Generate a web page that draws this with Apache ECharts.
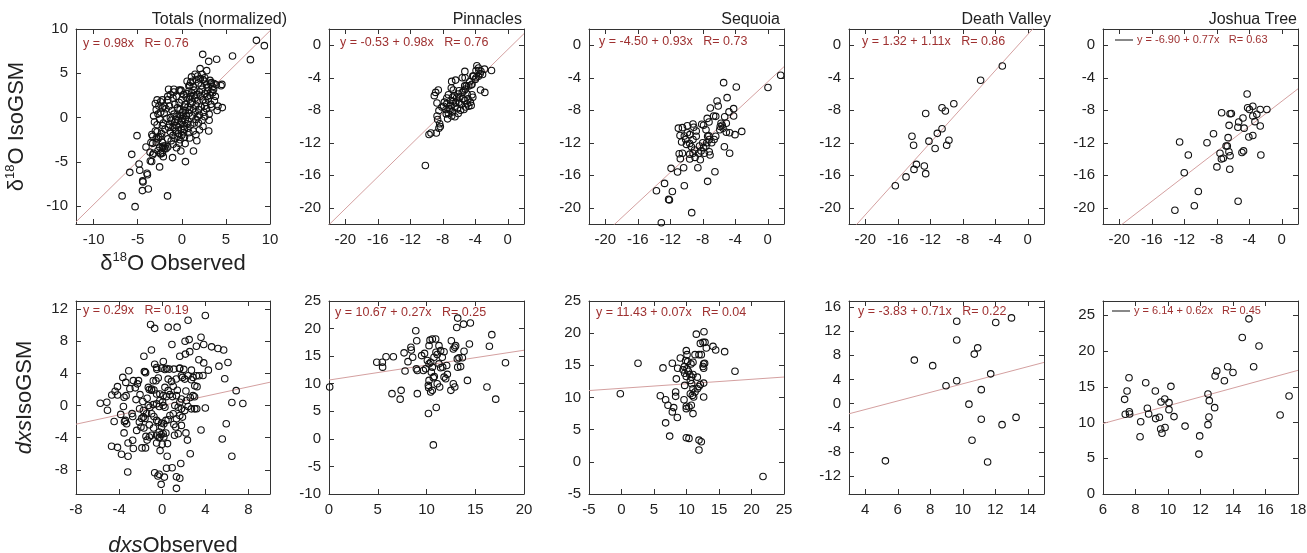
<!DOCTYPE html>
<html>
<head>
<meta charset="utf-8">
<script src="https://cdn.jsdelivr.net/npm/echarts@6/dist/echarts.min.js"></script>
<style>
html,body{margin:0;padding:0;background:#fff;}
#chart{width:1307px;height:553px;}
</style>
</head>
<body>
<div id="chart"></div>
<script>
// station names (top row titles)
var stations = ['Totals (normalized)', 'Pinnacles', 'Sequoia', 'Death Valley', 'Joshua Tree'];

// fitted lines: y = a + b*x  (a null = fit through origin)
var intercepts = [null, -0.53, -4.50, 1.32, -6.90, null, 10.67, 11.43, -3.83, 6.14];
var slopes     = [0.98, 0.98, 0.93, 1.11, 0.77, 0.29, 0.27, 0.07, 0.71, 0.62];
var rValues    = [0.76, 0.76, 0.73, 0.86, 0.63, 0.19, 0.25, 0.04, 0.22, 0.45];

// axis ranges and tick labels per panel
var xRanges = [[-12, 10], [-22, 2], [-22, 2], [-22, 2], [-22, 2], [-8, 10], [0, 20], [-5, 25], [3, 15], [6, 18]];
var yRanges = [[-12, 10], [-22, 2], [-22, 2], [-22, 2], [-22, 2], [-11, 13], [-10, 25], [-5, 25], [-15, 17], [0, 27]];
var d18Ticks = [-20, -16, -12, -8, -4, 0];
var xTicks = [[-10, -5, 0, 5, 10], d18Ticks, d18Ticks, d18Ticks, d18Ticks,
    [-8, -4, 0, 4, 8], [0, 5, 10, 15, 20], [-5, 0, 5, 10, 15, 20, 25], [4, 6, 8, 10, 12, 14], [6, 8, 10, 12, 14, 16, 18]];
var yTicks = [[-10, -5, 0, 5, 10], d18Ticks, d18Ticks, d18Ticks, d18Ticks,
    [-8, -4, 0, 4, 8, 12], [-10, -5, 0, 5, 10, 15, 20, 25], [-5, 0, 5, 10, 15, 20, 25], [-12, -8, -4, 0, 4, 8, 12, 16], [0, 5, 10, 15, 20, 25]];

// δ18O observed vs IsoGSM
var d18Totals = [
    [8.46,8.72],[9.36,8.12],[7.78,6.54],[5.75,6.95],[2.37,7.14],[3.05,6.35],[3.95,6.58],[2.07,5.53],[2.82,5.3],[4.59,1.13],
    [3.05,-1.5],[1.32,-3.76],[0.41,-4.96],[-0.11,-3.76],[0.38,-2.93],[-1.05,-4.51],[-1.62,-8.83],[-2.52,-5.56],[-6.77,-8.83],[-5.3,-10.04],
    [-5.68,-4.14],[-5.08,-2.03],[-5.9,-6.17],[-4.85,-5.23],[-4.77,-5.94],[-4.44,-7.14],[-4.4,-7.25],[-4.47,-8.23],[-3.8,-8.05],[-3.95,-6.28],
    [-3.9,-6.45],[-3.57,-4.89],[-3.42,-4.95],[-4.06,-3.31],[-3.2,-4.02],[-3.3,-2.9],[-2.9,-2.3],
    [1.5,4.9],[2.4,4.3],[2.6,4.1],[3.35,3.95],[3.65,3.85],[4.55,3.75],[4.45,3.6],[3.5,3.45],
    [0.6,4.1],[1.0,4.0],[1.3,3.5],[1.6,4.3],[1.9,3.9],[2.2,3.6],[2.8,3.7],[3.0,3.4],[3.3,3.8],[3.9,3.7],
    [0.8,3.0],[1.1,2.8],[1.4,3.1],[1.7,2.6],[2.0,2.9],[2.3,3.2],[2.6,2.7],[2.9,3.0],[3.2,2.5],[3.5,2.8],[3.8,2.4],
    [0.5,2.3],[0.9,2.1],[1.2,1.8],[1.5,2.2],[1.8,1.9],[2.1,2.4],[2.4,2.0],[2.7,1.7],[3.0,2.1],[3.3,1.5],[3.7,1.9],[4.1,1.3],
    [0.4,1.5],[0.7,1.2],[1.0,1.6],[1.3,1.0],[1.6,1.4],[1.9,0.9],[2.2,1.2],[2.5,0.6],[2.8,1.0],[3.1,0.4],[3.4,1.2],[4.0,0.8],
    [3.1,-0.3],[2.6,0.1],[2.0,0.3],[1.6,-0.2],[1.2,0.2],[0.8,0.5],[0.4,0.8],[1.1,4.6],[2.3,4.9],[0.9,3.6],[2.6,4.5],[3.2,4.2],
    [1.3,-1.5],[1.9,-0.6],[2.4,-1.0],[0.7,-1.2],[1.0,-0.8],[1.6,-1.9],[0.8,-1.7],[0.3,-2.2],[2.0,-1.4],[1.4,-0.6],
    [-1.4,-0.8],[-1.2,-0.3],[-1.0,-1.1],[-0.8,-0.5],[-0.6,-0.9],[-0.4,-0.3],[-0.2,-0.8],[0.0,-0.5],[0.2,-1.0],[0.4,-0.2],
    [-1.3,-1.6],[-1.0,-2.0],[-0.7,-1.5],[-0.4,-1.8],[-0.1,-1.3],[0.2,-1.7],[-1.6,-2.4],[-1.2,-2.6],[-0.8,-2.3],[-0.5,-2.1],[-0.2,-2.5],
    [0.1,-0.1],[-0.3,0.3],[-0.6,0.1],[-0.9,0.4],[-0.2,0.9],[0.1,0.6],[0.3,1.2],[-0.5,1.1],[-0.8,1.5],[-0.3,1.7],[0.0,2.0],[0.2,2.6],
    [-0.1,3.0],[-0.3,3.1],[-0.6,2.4],[-1.0,2.2],[-1.3,2.6],[-0.9,2.9],[-1.5,3.2],[-1.6,2.0],[-1.4,1.3],[-1.8,1.0],[-2.0,0.5],[-1.7,-0.1],
    [-2.1,-0.6],[-1.9,-1.3],[-2.3,-1.8],[-2.2,-2.8],[-1.9,-3.2],[-2.2,-3.4],[-2.5,-3.3],[-2.0,-3.5],[-2.7,-3.7],[-2.9,-2.8],[-2.6,-2.2],
    [-3.0,-1.5],[-2.8,-0.8],[-2.5,-0.2],[-2.7,0.4],[-2.9,0.9],[-2.6,1.3],[-2.4,1.8],[-2.2,1.1],[-3.0,1.6],[-2.8,2.0],[-3.2,0.2],[-3.1,-0.5],
    [-3.4,-1.9],[-3.5,-2.8],[-3.6,-3.9],[-3.3,-4.2],[-2.4,-4.0],[-2.1,-4.4],
    [-0.9,3.2],[-0.1,3.1],[0.8,3.6],[1.2,4.1],[1.8,4.7],[2.1,4.4],[0.6,2.7],[-1.6,2.4],[-2.2,2.0],[-2.0,1.3],[-2.4,0.6],[-2.2,-0.9],
    [-2.8,-1.6],[-2.4,-2.1],[-3.3,-2.1],[-2.7,-2.4],[-2.1,-3.2],[-1.6,-3.3],[-1.8,-3.5],[-2.2,-4.0],[-2.4,-4.1],
    [0.5,0.2],[0.7,-0.4],[0.9,0.9],[1.5,0.6],[1.8,0.1],[2.3,-0.3],[2.6,1.3],[2.9,2.4],[3.3,2.9],[3.6,3.2],[1.4,2.5],[1.0,2.4],
    [0.2,0.3],[-0.1,0.2],[-0.4,-1.1],[-0.7,-0.2],[-1.1,0.8],[-1.3,0.0],[-1.5,-1.1],[0.6,-0.7],[0.3,-1.3],[-0.3,-2.9],[0.0,-2.0],
    [-0.6,-3.4],[0.9,-2.3],[1.7,-2.6],[-1.0,-3.0]
];
var d18Pinnacles = [
    [-10.14,-14.8],[-9.69,-10.98],[-9.45,-10.8],[-8.79,-10.8],[-8.47,-10.2],[-8.3,-10.0],[-8.38,-9.67],[-8.63,-9.14],[-8.7,-8.7],
    [-8.71,-7.1],[-8.47,-8.04],[-9.04,-6.2],[-8.87,-5.8],[-8.55,-5.5],[-7.57,-8.45],[-7.4,-9.06],[-7.1,-8.0],[-6.95,-5.27],[-6.7,-5.5],
    [-6.9,-4.45],[-6.42,-4.29],[-5.28,-3.22],[-5.25,-4.0],[-4.3,-3.8],[-3.8,-2.53],[-3.55,-3.1],[-2.86,-2.94],[-2.0,-3.1],[-3.35,-5.5],
    [-2.82,-5.8],[-4.3,-6.4],[-5.1,-5.0],[-4.5,-4.9],[-5.4,-5.6],
    [-7.5,-7.2],[-7.0,-6.8],[-6.5,-7.5],[-6.0,-7.0],[-5.5,-6.6],[-5.0,-7.2],[-4.6,-7.0],[-7.2,-7.8],[-6.8,-8.2],[-6.2,-7.8],[-5.8,-8.0],
    [-5.2,-7.6],[-4.8,-7.5],[-7.8,-7.0],[-6.6,-6.2],[-6.1,-6.0],[-5.6,-5.8],[-5.2,-5.4],[-4.8,-5.0],[-4.4,-4.8],[-4.0,-4.2],[-3.6,-3.8],
    [-3.3,-3.2],[-3.6,-2.8],[-3.4,-3.5],[-4.2,-3.8],[-5.6,-4.0],[-6.3,-6.5],[-7.5,-6.5],[-7.9,-7.5],[-6.9,-8.7],[-6.5,-8.8],[-7.3,-8.4],
    [-5.3,-6.8],[-4.4,-6.1],[-5.0,-6.0],[-6.0,-5.6],[-4.7,-4.5],[-3.9,-4.0],[-5.3,-5.0],[-7.0,-7.4],[-6.4,-7.1],[-5.7,-7.3],[-5.9,-6.4],
    [-4.9,-6.6],[-6.7,-6.9],[-7.6,-7.9],[-6.1,-8.4],[-5.4,-7.9],[-4.5,-7.4],[-3.1,-3.6],[-3.9,-3.1],[-6.8,-6.4],[-7.3,-6.1],[-8.1,-7.6]
];
var d18Sequoia = [
    [1.59,-3.7],[0.03,-5.2],[-5.43,-4.6],[-3.87,-5.13],[-5.0,-6.45],[-6.24,-6.86],[-6.1,-7.47],[-7.07,-7.72],[-6.66,-8.7],[-6.4,-8.75],
    [-7.23,-9.45],[-7.45,-9.0],[-4.2,-7.8],[-4.2,-8.7],[-5.3,-8.8],[-4.77,-8.2],[-3.2,-10.6],[-4.03,-11.0],[-4.69,-10.76],[-5.1,-10.7],
    [-5.75,-9.6],[-5.6,-9.85],[-5.85,-10.0],[-5.5,-10.2],[-5.9,-10.4],[-5.1,-9.6],
    [-4.69,-13.3],[-5.34,-12.5],[-6.5,-15.56],[-7.4,-16.75],[-9.36,-20.6],[-13.1,-21.85],[-12.2,-18.97],[-12.1,-19.05],[-13.7,-17.9],
    [-12.7,-17.0],[-11.74,-18.0],[-11.9,-15.15],[-11.1,-15.6],[-10.35,-15.07],[-10.27,-17.3],[-8.6,-15.07],[-9.6,-14.0],[-8.95,-13.8],
    [-8.3,-14.1],[-10.76,-13.96],[-10.9,-13.35],[-10.5,-13.3],
    [-10.5,-10.14],[-9.9,-9.9],[-9.2,-9.7],[-9.1,-10.1],[-9.9,-10.76],[-10.27,-11.17],[-10.1,-11.6],[-10.0,-12.2],[-9.6,-11.0],[-8.8,-10.55],
    [-8.13,-9.73],[-7.9,-9.85],[-7.6,-10.4],[-7.4,-11.2],[-7.2,-11.6],[-8.0,-12.0],[-7.9,-12.6],[-7.6,-12.4],[-8.4,-12.4],[-8.2,-13.0],
    [-8.8,-11.2],[-9.2,-11.6],[-9.6,-12.1],[-9.4,-12.5],[-8.5,-13.3],[-7.8,-13.3],[-7.5,-12.0],[-7.2,-13.1],[-7.1,-13.5],[-7.25,-11.15],
    [-6.9,-12.0],[-6.4,-11.2],[-6.6,-11.6],[-9.2,-13.3],[-9.6,-13.4],[-9.0,-12.9],[-11.0,-10.2],[-10.8,-11.1],[-10.6,-11.9]
];
var d18DeathValley = [
    [-3.13,-2.55],[-5.8,-4.3],[-9.1,-7.2],[-10.55,-7.7],[-10.14,-8.1],[-12.56,-8.4],[-10.55,-10.27],[-11.13,-10.84],[-14.25,-11.2],
    [-14.05,-12.3],[-12.16,-11.8],[-11.4,-12.7],[-9.98,-12.3],[-9.7,-11.7],[-13.7,-14.66],[-14.0,-15.28],[-12.73,-14.87],[-12.56,-15.8],
    [-14.98,-16.2],[-16.3,-17.3]
];
var d18JoshuaTree = [
    [-4.26,-6.0],[-4.2,-7.7],[-3.97,-7.9],[-3.56,-7.5],[-2.65,-7.9],[-1.83,-7.9],[-3.56,-8.7],[-3.07,-8.5],[-3.3,-9.4],[-2.65,-9.94],
    [-4.77,-8.96],[-5.3,-9.45],[-5.4,-10.1],[-4.63,-10.2],[-3.56,-11.1],[-4.05,-11.3],[-7.4,-8.3],[-6.36,-8.43],[-6.2,-8.4],[-6.48,-9.86],
    [-8.4,-10.9],[-6.6,-11.37],[-9.2,-12.0],[-12.57,-11.9],[-11.5,-13.5],[-12.0,-15.7],[-10.27,-18.0],[-10.76,-19.75],[-13.15,-20.3],
    [-5.37,-19.2],[-2.57,-13.5],[-4.9,-13.2],[-4.7,-13.0],[-6.85,-12.4],[-6.7,-12.4],[-6.5,-13.1],[-6.36,-13.6],[-7.6,-13.3],[-7.43,-14.0],
    [-7.2,-13.9],[-7.98,-14.97],[-6.4,-15.26]
];

// dxs observed vs IsoGSM
var dxsTotals = [
    [4.0,11.2],[2.4,10.6],[-1.08,10.08],[-0.7,9.6],[0.55,9.75],[1.38,9.75],[3.6,8.5],[3.85,7.6],[0.9,7.6],[2.12,8.0],[2.5,8.2],[3.17,7.37],
    [4.58,7.3],[5.17,7.1],[5.7,6.9],[2.55,6.7],[2.15,6.4],[1.63,6.13],[-1.0,6.9],[-1.7,6.13],[3.4,5.7],[3.85,5.3],[6.1,5.35],[5.26,4.9],
    [4.28,4.4],[5.8,3.33],[6.86,1.85],[6.46,0.37],[7.48,0.25],[5.94,-2.26],[5.57,-4.16],[6.46,-6.3],[3.6,-3.05],[2.6,-6.0],[2.34,-4.3],
    [2.2,-3.4],[1.72,-7.2],[0.92,-7.74],[0.4,-7.8],[1.63,-9.05],[1.32,-8.85],[1.32,-10.3],[-0.1,-9.8],[0.2,-8.9],[-0.4,-8.77],[-0.7,-8.35],
    [-0.28,-8.55],[-3.2,-8.27],[-3.17,-6.3],[-3.78,-6.05],[-4.7,-5.06],[-4.15,-5.2],[-3.17,-4.65],[-2.74,-4.32],[-2.68,-5.35],[-1.88,-5.27],
    [-1.55,-5.27],[-1.4,-4.3],[-0.2,-5.6],[0.46,-6.3],[-0.52,-4.65],[0.0,-4.81],[0.49,-4.73],[-1.2,-3.91],[-4.46,-1.98],[-3.54,-3.4],
    [-3.3,-2.26],[-3.42,-1.85],[-2.74,-1.36],[-3.85,-1.1],[-3.6,-0.12],[-5.08,-0.58],[-5.75,0.29],[-5.14,0.41],[-4.68,1.32],[-4.15,1.32],
    [-4.37,1.77],[-4.15,2.35],[-3.54,1.03],[-3.35,1.23],[-3.66,3.5],[-3.1,4.32],[-3.38,2.88],[-2.68,3.1],[-2.2,3.1],[-2.5,2.2],[-2.3,2.7],
    [-2.06,1.36],[-2.43,0.74],[-1.66,4.24],[-1.54,4.07],[-0.7,5.14],[-0.52,4.73],[0.1,5.47],[-0.06,4.65],[0.25,4.49],[0.65,4.53],
    [1.08,4.53],[1.63,4.65],
    [1.78,3.70],[1.88,3.50],[2.09,3.29],[2.40,3.70],[2.71,4.40],[2.86,3.50],[3.17,3.70],[3.42,3.70],[3.02,2.47],[3.23,2.35],[3.78,3.74],
    [1.02,2.39],[0.55,1.85],[0.25,2.26],[0.86,3.00],[0.55,3.29],[-0.83,3.09],[-0.58,3.09],[-0.37,3.42],[-1.29,2.26],[-0.98,2.06],
    [-0.77,1.93],[-0.52,1.44],[-0.22,1.44],[0.09,1.23],[0.40,1.11],[0.71,1.36],[0.95,1.11],[1.32,1.23],[1.17,0.0],[1.48,-0.21],
    [1.78,-0.41],[2.09,-0.62],[2.40,-0.12],[2.71,-0.41],[3.02,-0.41],[1.63,0.41],[1.78,0.82],[2.25,0.62],[2.86,1.23],[-0.52,0.21],
    [-0.22,0.62],[0.03,0.41],[0.09,0.0],[0.25,-0.21],[-0.28,-0.12],[-0.83,0.12],[-1.14,-0.21],[-1.29,0.0],[-1.75,-0.62],[-1.45,-1.03],
    [-0.98,-1.03],[-0.77,-1.36],[-0.52,-1.85],[-0.37,-2.06],[-0.06,-2.18],[0.15,-2.26],[0.34,-1.85],[0.55,-1.77],[0.71,-1.23],[1.02,-1.03],
    [1.32,-1.65],[1.63,-1.23],[1.88,-1.44],[1.08,-2.35],[1.26,-2.67],[1.78,-2.47],[-0.06,-2.67],[-0.28,-3.29],[0.09,-3.50],[0.34,-3.42],
    [-0.52,-3.70],[-0.22,-3.91],[0.15,-3.91],[-1.75,-1.44],[-2.12,-2.06],[-1.97,-2.67],[-2.37,-3.09],[-1.51,-3.83],[1.14,-3.70],[1.48,-3.50],
    [-3.0,2.1],[-1.8,0.5],[-1.4,0.9],[-1.0,1.9],[-1.2,2.0],[-2.8,-1.0],[-1.6,-1.6],[-1.2,-2.4],[-0.8,-2.8],[-1.0,-3.7],[-0.3,-4.0],
    [-0.1,-3.6],[2.0,4.5],[2.7,3.2],[1.3,3.3],[1.6,4.6],[0.4,4.6],[-0.5,4.5],[-1.6,4.2],[-1.7,-2.8],[-3.5,-2.0],[-2.1,-0.4],[-1.9,-1.6],
    [3.0,1.1],[2.6,1.0],[4.0,-0.3],[3.2,-0.4],[2.2,1.8],[1.4,1.9]
];
var dxsPinnacles = [
    [0.07,9.4],[4.9,13.9],[5.47,13.9],[5.5,13.0],[5.85,14.9],[6.6,14.9],[6.46,8.2],[7.4,8.8],[7.3,7.2],[7.8,12.3],[7.7,15.6],[8.1,14.0],
    [8.4,16.6],[8.44,16.12],[8.58,14.8],[8.9,19.6],[9.0,17.8],[8.96,12.7],[9.06,12.4],[9.06,8.2],[9.5,15.1],[9.8,15.5],[9.68,12.4],
    [9.91,12.7],[10.26,16.9],[10.36,17.9],[10.6,18.1],[10.94,18.1],[10.09,14.2],[10.26,13.6],[10.43,13.9],[10.6,13.0],[10.5,12.1],
    [10.26,10.6],[10.19,9.7],[10.22,9.27],[10.43,8.5],[10.6,8.8],[10.2,4.6],[11.0,5.7],[10.7,-1.1],[10.7,11.1],[10.8,11.3],[10.77,14.8],
    [10.97,15.7],[11.1,15.3],[11.28,16.9],[11.45,16.0],[11.62,14.8],[11.8,15.8],[12.07,13.3],[11.66,13.0],[11.8,11.2],[11.97,10.9],
    [12.14,11.7],[12.5,8.8],[12.55,17.8],[12.75,16.3],[12.9,16.6],[13.2,21.9],[13.1,20.2],[12.99,16.9],[12.9,9.4],[12.75,10.0],[13.2,13.0],
    [13.5,13.1],[13.16,14.5],[13.33,14.7],[13.8,20.8],[14.5,21.0],[14.4,17.2],[14.2,10.6],[13.85,15.9],[13.68,14.7],[16.2,9.4],[16.45,16.8],
    [16.7,18.9],[17.1,7.2],[18.1,13.8],[11.28,13.6],[11.45,12.9],[11.1,10.0],[11.35,9.4]
];
var dxsSequoia = [
    [-0.18,10.59],[2.54,15.32],[6.38,14.6],[5.97,10.28],[6.79,9.66],[7.15,8.79],[8.03,8.43],[7.82,7.76],[8.59,6.88],[6.79,6.06],[7.41,4.0],
    [8.44,12.9],[8.33,10.85],[8.33,10.18],[7.82,15.32],[8.64,14.55],[9.05,16.15],[9.46,14.3],[9.67,14.8],[10.08,14.45],[9.72,11.88],
    [9.62,9.66],[9.97,8.27],[9.97,8.63],[10.38,8.53],[9.97,17.28],[10.08,16.66],[9.87,15.74],[10.18,15.58],[9.72,13.78],[9.97,13.27],
    [10.28,14.09],[10.49,13.57],[10.79,13.16],[11.0,13.57],[10.59,12.65],[10.79,12.13],[10.59,10.59],[10.9,10.33],[11.0,11.36],[11.1,10.07],
    [11.31,10.85],[10.69,15.22],[11.0,15.48],[11.31,16.66],[11.92,16.66],[12.28,16.66],[11.51,19.85],[11.0,7.5],[10.74,8.79],[9.97,3.74],
    [10.38,3.64],[11.92,3.38],[12.28,3.13],[11.92,1.84],[11.67,11.36],[11.92,11.72],[12.13,12.03],[12.54,14.81],[12.64,14.55],[12.64,15.22],
    [12.79,15.32],[12.13,18.41],[12.54,18.57],[12.69,20.21],[12.85,18.57],[13.05,17.69],[12.64,12.24],[12.64,10.07],[14.08,17.95],
    [14.49,17.38],[15.87,17.13],[17.46,14.09],[21.77,-2.28],[11.67,13.16]
];
var dxsDeathValley = [
    [5.24,-9.5],[7.02,7.2],[8.15,6.28],[8.97,2.95],[9.63,3.77],[9.63,10.54],[9.63,13.65],[10.38,-0.1],[10.57,-6.1],[10.71,8.2],
    [10.92,9.23],[11.14,2.3],[11.14,-2.6],[11.53,-9.7],[11.72,4.92],[12.03,13.43],[12.42,-3.5],[13.0,14.2],[13.28,-2.3]
];
var dxsJoshuaTree = [
    [7.33,13.24],[7.37,11.15],[7.48,14.4],[7.6,16.26],[7.62,11.5],[7.64,11.2],[8.32,10.1],[8.28,8.0],[8.63,15.57],[8.73,12.0],[8.81,11.2],
    [9.24,10.55],[9.22,14.4],[9.47,10.73],[9.57,12.87],[9.55,9.1],[9.63,8.5],[9.82,9.3],[9.8,13.3],[10.06,12.78],[10.06,11.8],[10.18,15.06],
    [10.37,10.83],[11.05,9.5],[11.95,8.13],[11.9,5.58],[12.46,14.0],[12.54,13.06],[12.52,10.78],[12.46,9.7],[12.87,12.08],[12.9,16.5],
    [13.0,17.2],[13.47,15.85],[13.67,17.8],[14.0,17.0],[14.57,21.9],[14.98,24.5],[15.27,17.8],[15.6,20.7],[16.9,11.06],[17.45,13.7]
];

var panels = [d18Totals, d18Pinnacles, d18Sequoia, d18DeathValley, d18JoshuaTree,
    dxsTotals, dxsPinnacles, dxsSequoia, dxsDeathValley, dxsJoshuaTree];

// layout (pixels)
var gridLeft = [76, 329, 589, 849, 1103];
var gridWidth = [194, 195, 195, 195, 195];
var gridTop = [29, 301];
var gridHeight = [195, 193];
var titleRight = [287, 522, 780, 1051, 1297];
var eqLeft = [83, 340, 599, 862, 1115, 83, 335, 596, 858, 1112];
var eqTop = [37, 36, 35, 35, 33, 304, 306, 306, 305, 304];

var FONT = '"Liberation Sans", Arial, Helvetica, sans-serif';
var INK = '#222';
var FIT_RED = '#9e3030';

function fitLabel(i) {
    var s = 'y = ';
    if (intercepts[i] !== null) {
        s += intercepts[i].toFixed(2) + ' + ';
    }
    return s + slopes[i].toFixed(2) + 'x   R= ' + rValues[i].toFixed(2);
}

var grids = [], xAxes = [], yAxes = [], series = [], titles = [];

for (var i = 0; i < 10; i++) {
    var r = Math.floor(i / 5), c = i % 5;
    grids.push({
        left: gridLeft[c], top: gridTop[r], width: gridWidth[c], height: gridHeight[r],
        outerBoundsMode: 'none', containLabel: false, show: false
    });
    var lineStyle = {show: true, onZero: false, lineStyle: {color: '#333', width: 1}};
    var tickX = {show: true, inside: true, length: 5, customValues: xTicks[i], lineStyle: {color: '#333'}};
    var tickY = {show: true, inside: true, length: 5, customValues: yTicks[i], lineStyle: {color: '#333'}};
    var xa = {
        type: 'value', gridIndex: i, position: 'bottom',
        min: xRanges[i][0], max: xRanges[i][1],
        axisLine: lineStyle, axisTick: tickX, splitLine: {show: false},
        axisLabel: {customValues: xTicks[i], fontSize: 15, color: INK, fontFamily: FONT, margin: 8}
    };
    var ya = {
        type: 'value', gridIndex: i, position: 'left',
        min: yRanges[i][0], max: yRanges[i][1],
        axisLine: lineStyle, axisTick: tickY, splitLine: {show: false},
        axisLabel: {customValues: yTicks[i], fontSize: 15, color: INK, fontFamily: FONT, margin: 8}
    };
    if (i === 0 || i === 5) {
        var nameRich = {
            n: {fontSize: 22, fontFamily: FONT, color: INK, lineHeight: 26},
            s: {fontSize: 13, fontFamily: FONT, color: INK, lineHeight: 26, verticalAlign: 'top', padding: [0, 0, 8, 0]},
            i: {fontSize: 22, fontFamily: FONT, color: INK, fontStyle: 'italic', lineHeight: 26}
        };
        xa.nameLocation = 'middle';
        ya.nameLocation = 'middle';
        xa.nameTextStyle = {rich: nameRich};
        ya.nameTextStyle = {rich: nameRich};
        if (i === 0) {
            xa.name = '{n|δ}{s|18}{n|O Observed}';
            ya.name = '{n|δ}{s|18}{n|O IsoGSM}';
            xa.nameGap = 27;
            ya.nameGap = 46;
        } else {
            xa.name = '{i|dxs}{n|Observed}';
            ya.name = '{i|dxs}{n|IsoGSM}';
            xa.nameGap = 39;
            ya.nameGap = 38;
        }
    }
    xAxes.push(xa);
    yAxes.push(ya);
    // mirrored frame with inward ticks
    xAxes.push({
        type: 'value', gridIndex: i, position: 'top',
        min: xRanges[i][0], max: xRanges[i][1],
        axisLine: lineStyle, axisTick: tickX, axisLabel: {show: false}, splitLine: {show: false}
    });
    yAxes.push({
        type: 'value', gridIndex: i, position: 'right',
        min: yRanges[i][0], max: yRanges[i][1],
        axisLine: lineStyle, axisTick: tickY, axisLabel: {show: false}, splitLine: {show: false}
    });

    series.push({
        type: 'scatter', xAxisIndex: 2 * i, yAxisIndex: 2 * i,
        data: panels[i], symbol: 'circle', symbolSize: 6.5, silent: true,
        itemStyle: {color: 'rgba(0,0,0,0)', borderColor: '#111', borderWidth: 1.1, opacity: 1}
    });
    var a = intercepts[i] === null ? 0 : intercepts[i];
    var x0 = xRanges[i][0], x1 = xRanges[i][1];
    series.push({
        type: 'line', xAxisIndex: 2 * i, yAxisIndex: 2 * i,
        data: [[x0, a + slopes[i] * x0], [x1, a + slopes[i] * x1]],
        showSymbol: false, silent: true, clip: true, z: 1,
        lineStyle: {color: '#d4a0a0', width: 1}
    });

    var joshua = (c === 4);
    titles.push({
        text: joshua ? '{k| }{g| }{t|' + fitLabel(i) + '}' : '{t|' + fitLabel(i) + '}',
        left: eqLeft[i], top: eqTop[i], padding: 0,
        textStyle: {
            fontWeight: 'normal',
            rich: {
                t: {fontSize: joshua ? 11 : 12.5, fontWeight: 'normal', fontFamily: FONT, color: FIT_RED, lineHeight: 14},
                k: {width: 18, height: 1, backgroundColor: '#111', lineHeight: 14},
                g: {width: 4, lineHeight: 14}
            }
        }
    });
}

for (var c2 = 0; c2 < 5; c2++) {
    titles.push({
        text: stations[c2], right: 1307 - titleRight[c2], top: 12, padding: 0,
        textStyle: {fontSize: 16, fontWeight: 'normal', color: INK, fontFamily: FONT}
    });
}

var myChart = echarts.init(document.getElementById('chart'));
var option = {
    backgroundColor: '#fff',
    animation: false,
    title: titles,
    grid: grids,
    xAxis: xAxes,
    yAxis: yAxes,
    series: series
};
myChart.setOption(option);
</script>
</body>
</html>
